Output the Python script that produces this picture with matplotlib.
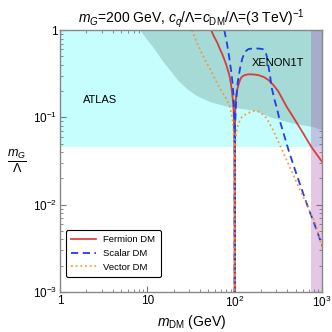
import matplotlib
matplotlib.use("Agg")
import matplotlib.pyplot as plt
from matplotlib.ticker import FixedLocator, FixedFormatter, LogLocator, NullFormatter

plt.rcParams['font.family'] = ['Liberation Sans', 'DejaVu Sans']
plt.rcParams['mathtext.fontset'] = 'custom'
plt.rcParams['mathtext.rm'] = 'Liberation Sans'
plt.rcParams['mathtext.it'] = 'Liberation Sans:italic'

# excluded regions
atlas_xlim = [1, 1000]
atlas_ylim = [0.046, 1.0]
xenon_x = [8.2, 9.5, 11, 13, 15, 18, 22, 28, 36, 52, 75, 100, 171, 255, 465,
           800, 1000]
xenon_y = [1.0, 0.82, 0.68, 0.54, 0.44, 0.35, 0.27, 0.215, 0.18, 0.151, 0.137,
           0.13, 0.12, 0.101, 0.086, 0.078, 0.072]
band_x = [753, 1000]

# relic-density curves (m_DM in GeV, m_G / Lambda)
fermion_x = [53.6, 58, 63, 68, 72.8, 80, 86.8, 90, 93, 95, 97, 98.5, 99.5, 99.9,
             100, 100.2, 100.6, 101.5, 103, 106, 110, 115, 120, 130, 144, 165,
             186, 215, 243, 280, 317, 394, 470, 612, 753, 1000]
fermion_y = [1.0, 0.84, 0.72, 0.6, 0.517, 0.4, 0.305, 0.25, 0.196, 0.16, 0.12,
             0.08, 0.04, 0.01, 0.001, 0.03, 0.07, 0.12, 0.16, 0.2, 0.234, 0.268,
             0.29, 0.305, 0.311, 0.31, 0.305, 0.29, 0.268, 0.232, 0.197, 0.132,
             0.1, 0.065, 0.046, 0.031]
scalar_x = [76, 79, 82, 86.8, 91, 95, 97, 98.5, 99.5, 100, 100.5, 101, 102.5,
            104, 108, 115, 122, 131, 144, 160, 180, 200, 213, 225, 233, 243,
            255, 266, 285, 304, 331, 420, 514, 700, 871, 1000]
scalar_y = [1.0, 0.82, 0.68, 0.474, 0.34, 0.235, 0.17, 0.12, 0.06, 0.001, 0.05,
            0.08, 0.12, 0.16, 0.25, 0.364, 0.47, 0.564, 0.606, 0.615, 0.615, 0.61,
            0.6, 0.56, 0.5, 0.39, 0.29, 0.215, 0.16, 0.127, 0.089, 0.04, 0.0218,
            0.009, 0.0051, 0.0034]
vector_x = [32.3, 36, 40, 46, 52, 58, 65, 73, 81, 87, 92, 95, 97, 98.5, 99.5,
            100, 100.5, 101, 103, 105, 110, 120, 138, 163, 178, 195, 215, 233,
            255, 275, 380, 514, 834, 1000]
vector_y = [1.0, 0.76, 0.6, 0.45, 0.36, 0.29, 0.23, 0.19, 0.16, 0.135, 0.11,
            0.09, 0.07, 0.05, 0.03, 0.001, 0.03, 0.045, 0.06, 0.07, 0.085, 0.1,
            0.111, 0.118, 0.119, 0.114, 0.106, 0.097, 0.082, 0.0716, 0.035,
            0.0177, 0.0062, 0.0033]

fig = plt.figure(figsize=(3.32, 3.32), dpi=100)
ax = fig.add_axes([0.181, 0.1205, 0.789, 0.789])
ax.set_xscale('log')
ax.set_yscale('log')

ax.fill_between(atlas_xlim, atlas_ylim[0], atlas_ylim[1], color='#c6fdfd',
                lw=0, zorder=1)
ax.fill_between(xenon_x, xenon_y, 1.0, color='#a6dad7', lw=0, zorder=2)
ax.axvspan(band_x[0], band_x[1], color='#a746a7', alpha=0.3, lw=0, zorder=3)

ax.plot(fermion_x, fermion_y, color='#dd2222', lw=1.3, alpha=0.85, zorder=5,
        label='Fermion DM')
ax.plot(scalar_x, scalar_y, color='#1f3fe6', lw=1.3, ls=(0, (4, 2.5)),
        zorder=6, label='Scalar DM')
ax.plot(vector_x, vector_y, color='#ff8a1e', lw=1.3, ls=(0, (1, 1.6)),
        alpha=0.85, zorder=7, label='Vector DM')

ax.text(2.87, 0.158, 'ATLAS', fontsize=8, ha='center', va='center', zorder=8)
ax.text(316, 0.415, 'XENON1T', fontsize=8, ha='center', va='center', zorder=8)

ax.set_xlim(1, 1000)
ax.set_ylim(1e-3, 1)

ax.xaxis.set_major_locator(FixedLocator([1, 10, 100, 1000]))
ax.xaxis.set_major_formatter(FixedFormatter(['1', '10', '$10^2$', '$10^3$']))
ax.yaxis.set_major_locator(FixedLocator([1e-3, 1e-2, 1e-1, 1]))
ax.yaxis.set_major_formatter(FixedFormatter(['$10^{-3}$', '$10^{-2}$',
                                             '$10^{-1}$', '1']))
for a in (ax.xaxis, ax.yaxis):
    a.set_minor_locator(LogLocator(base=10, subs=range(2, 10)))
    a.set_minor_formatter(NullFormatter())

ax.tick_params(which='both', direction='in', top=True, right=True,
               color='#777777', labelsize=8.5, pad=2)
ax.tick_params(which='major', length=4, width=0.8)
ax.tick_params(which='minor', length=2, width=0.6)
for s in ax.spines.values():
    s.set_color('#888888')
    s.set_linewidth(1.0)
    s.set_zorder(10)

ax.set_xlabel(r'$m_{\rm DM}$ (GeV)', fontsize=10, labelpad=2)
ax.set_ylabel(r'$\frac{m_G}{\Lambda}$', fontsize=13, rotation=0,
              labelpad=12, va='center')
ax.set_title(r'$m_G$=200 GeV, $c_q$/$\Lambda$=$c_{\rm DM}$/$\Lambda$=(3 TeV)$^{-1}$',
             fontsize=10, pad=5)

leg = ax.legend(loc='lower left', fontsize=6.8, frameon=True, fancybox=True,
                edgecolor='black', framealpha=1, handlelength=2.6,
                borderpad=0.55, labelspacing=0.5, bbox_to_anchor=(0.005, 0.04))
leg.get_frame().set_linewidth(0.8)
leg.set_zorder(11)

fig.savefig('out.png', dpi=100)
